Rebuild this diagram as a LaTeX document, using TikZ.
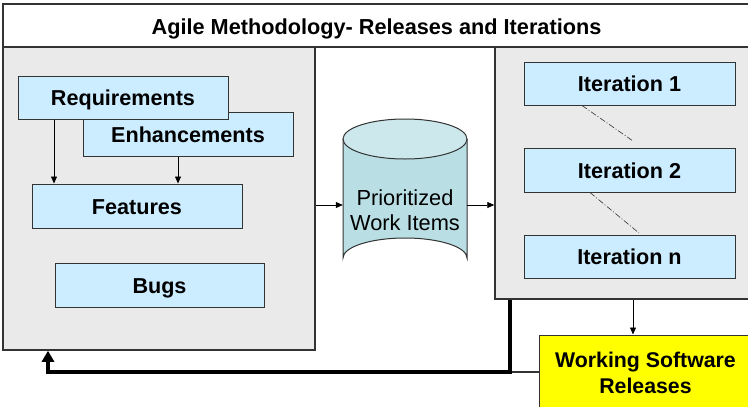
\documentclass[tikz,border=0pt]{standalone}
\usepackage{fontspec}
\setmainfont{Liberation Sans}
\usetikzlibrary{arrows.meta}
\definecolor{panelgray}{HTML}{EAEAEA}
\definecolor{boxblue}{HTML}{CCECFF}
\definecolor{edge}{HTML}{333333}
\definecolor{cylbody}{HTML}{B9DFE4}
\definecolor{cyltop}{HTML}{CCE8EC}
\definecolor{relyellow}{HTML}{FFFF00}
\begin{document}
\begin{tikzpicture}[x=1pt,y=-1pt,
  panel/.style={draw=edge,line width=1.5pt,fill=panelgray,minimum width=#1,inner sep=0pt},
  bluebox/.style={draw=edge,line width=1pt,fill=boxblue,minimum width=210pt,minimum height=43pt,inner sep=0pt,
    text height=16pt,text depth=0pt,font=\fontsize{21.6}{26}\selectfont\bfseries},
  arr/.style={line width=0.8pt,-{Triangle[length=7pt,width=6pt]}},
  dd/.style={line width=0.6pt,draw=edge,dash pattern=on 6pt off 2pt on 1pt off 2pt}]
\useasboundingbox (0,0) rectangle (748,407);
\clip (0,0) rectangle (748,407);
% title
\node[draw=edge,line width=1.5pt,fill=white,minimum width=747pt,minimum height=43pt,inner sep=0pt,
  text height=17pt,text depth=0pt,
  font=\fontsize{21.7}{26}\selectfont\bfseries] (title) at (376.5,25.5) {Agile Methodology- Releases and Iterations};
% panels
\node[panel=312pt,minimum height=303pt] (lp) at (159,198.5) {};
\node[panel=257pt,minimum height=252pt] (rp) at (623.5,173) {};
% left boxes
\node[bluebox,minimum height=44pt] (enh) at (188,134) {Enhancements};
\node[bluebox] (req) at (123,97.5) {Requirements};
\node[bluebox,minimum height=44pt] (feat) at (137,206) {Features};
\node[bluebox,minimum height=44pt,minimum width=209pt] (bugs) at (159.5,285) {Bugs};
\draw[arr] (req.south -| 54,0) -- (feat.north -| 54,0);
\draw[arr] (enh.south -| 178,0) -- (feat.north -| 178,0);
% iterations
\node[bluebox,minimum width=211pt] (it1) at (629.5,83.5) {Iteration 1};
\node[bluebox,minimum width=211pt,minimum height=44pt] (it2) at (629.5,170) {Iteration 2};
\node[bluebox,minimum width=211pt] (itn) at (629.5,256.5) {Iteration n};
\coordinate (d1) at (633,141);
\coordinate (d2) at (639,233);
\draw[dd] (it1.south -| 582,0) -- (d1);
\draw[dd] (it2.south -| 590,0) -- (d2);
% cylinder
\node[minimum width=124pt,minimum height=159pt,inner sep=0pt] (cyl) at (405,198.5) {};
\fill[cylbody] (343,139) -- (343,258) arc[start angle=180,end angle=360,x radius=62pt,y radius=-20pt] -- (467,139) -- cycle;
\draw[edge,line width=1pt] (343,139) -- (343,258) arc[start angle=180,end angle=360,x radius=62pt,y radius=-20pt] -- (467,139);
\draw[edge,line width=1pt,fill=cyltop] (405,139) ellipse[x radius=62pt,y radius=20pt];
\node[align=center,font=\fontsize{21.8}{25.5}\selectfont,inner sep=0pt] (cyltext) at (405,210) {Prioritized\\Work Items};
\draw[arr] (lp.east |- 0,205) -- (cyl.west |- 0,205);
\draw[arr] (cyl.east |- 0,205) -- (rp.west |- 0,205);
% releases
\node[draw=edge,line width=1pt,fill=relyellow,minimum width=213pt,minimum height=75pt,inner sep=0pt,align=center,
  font=\fontsize{21.3}{26}\selectfont\bfseries] (wsr) at (645.5,372.5) {Working Software\\Releases};
\draw[arr] (rp.south -| 633,0) -- (wsr.north -| 633,0);
\coordinate (j) at (510,372);
\draw[edge,line width=2pt] (wsr.west |- j) -- (j);
\draw[line width=4pt,-{Triangle[length=11pt,width=12pt]}] (rp.south -| j) -- (j) -| (lp.south -| 48,0);
\end{tikzpicture}
\end{document}
